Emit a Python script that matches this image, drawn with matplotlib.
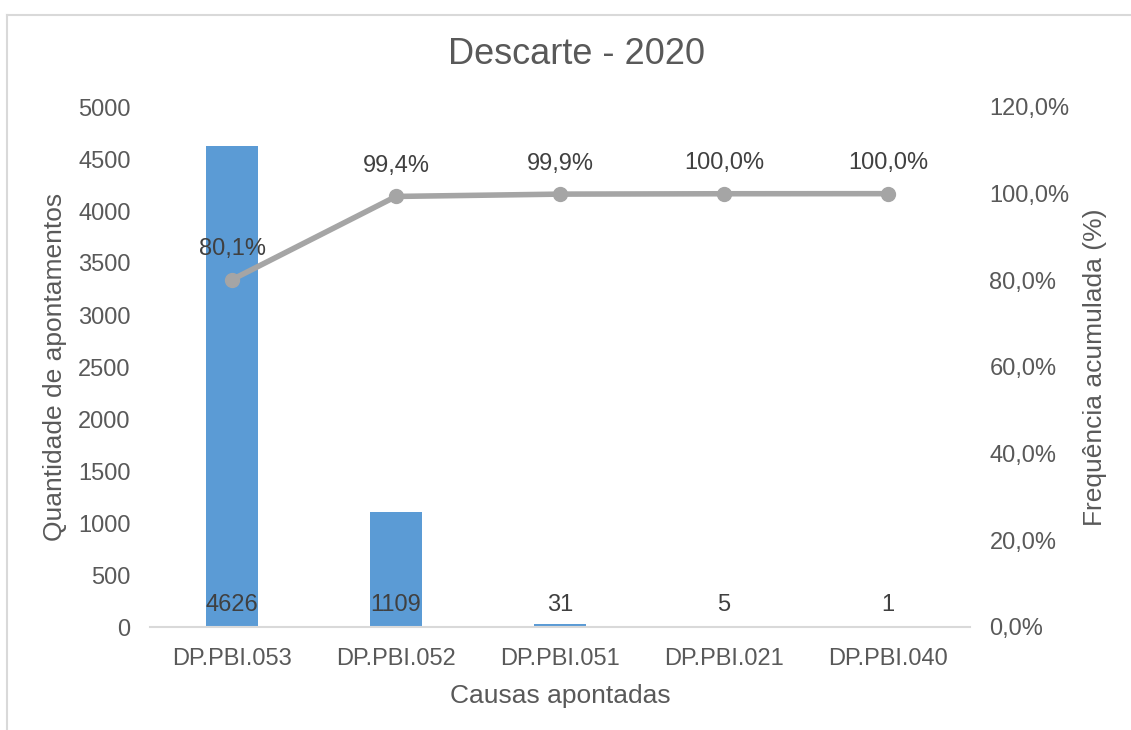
import matplotlib.pyplot as plt
from matplotlib.ticker import FuncFormatter
from matplotlib.lines import Line2D

# Apontamentos de descarte por causa
causas = ['DP.PBI.053', 'DP.PBI.052', 'DP.PBI.051', 'DP.PBI.021', 'DP.PBI.040']
quantidades = [4626, 1109, 31, 5, 1]

total = sum(quantidades)
acumulado = []
soma = 0
for q in quantidades:
    soma += q
    acumulado.append(soma / total * 100)

cinza = '#595959'
plt.rcParams['font.family'] = ['Liberation Sans', 'DejaVu Sans']

fig = plt.figure(figsize=(11.31, 7.30), dpi=100)
ax = fig.add_axes([150 / 1131, 103 / 730, 820 / 1131, 520 / 730])
x = list(range(len(causas)))

ax.bar(x, quantidades, width=0.32, color='#5B9BD5', zorder=2)
for xi, q in zip(x, quantidades):
    ax.annotate(str(q), (xi, 0), xytext=(0, 16), textcoords='offset points',
                ha='center', va='center', fontsize=17, color='#404040', zorder=5)

ax.set_xlim(-0.5, len(causas) - 0.5)
ax.set_ylim(0, 5000)
ax.set_yticks(range(0, 5001, 500))
ax.set_xticks(x)
ax.set_xticklabels(causas)
ax.tick_params(axis='both', length=0, labelsize=17, labelcolor=cinza)
ax.tick_params(axis='y', pad=14)
ax.tick_params(axis='x', pad=15)
for s in ['top', 'right', 'left']:
    ax.spines[s].set_visible(False)
ax.spines['bottom'].set_color('#D9D9D9')
ax.spines['bottom'].set_linewidth(1.5)
ax.set_ylabel('Quantidade de apontamentos', fontsize=19, color=cinza, labelpad=8)
ax.set_xlabel('Causas apontadas', fontsize=19, color=cinza, labelpad=10)

# título centrado na área do gráfico inteiro
fig.text(576 / 1131, 1 - 55 / 730, 'Descarte - 2020', fontsize=26, color=cinza,
         ha='center', va='center')

# Frequência acumulada no eixo secundário
ax2 = ax.twinx()
ax2.plot(x, acumulado, color='#A5A5A5', lw=4, marker='o', ms=10, zorder=3)
for xi, p in zip(x, acumulado):
    ax2.annotate(f'{p:.1f}%'.replace('.', ','), (xi, p), xytext=(0, 22),
                 textcoords='offset points', ha='center', va='center',
                 fontsize=17, color='#404040')
ax2.set_ylim(0, 120)
ax2.set_yticks(range(0, 121, 20))
ax2.yaxis.set_major_formatter(FuncFormatter(lambda v, _: f'{v:.1f}%'.replace('.', ',')))
ax2.tick_params(axis='y', length=0, labelsize=17, labelcolor=cinza, pad=14)
for s in ax2.spines.values():
    s.set_visible(False)
ax2.set_ylabel('Frequência acumulada (%)', fontsize=19, color=cinza, labelpad=10)

# moldura da área do gráfico
fig.add_artist(Line2D([7 / 1131, 7 / 1131], [0, 1 - 15 / 730], transform=fig.transFigure,
                      color='#D9D9D9', lw=1.5))
fig.add_artist(Line2D([7 / 1131, 1], [1 - 15 / 730, 1 - 15 / 730], transform=fig.transFigure,
                      color='#D9D9D9', lw=1.5))

plt.savefig('out.png', dpi=100)
plt.close()
